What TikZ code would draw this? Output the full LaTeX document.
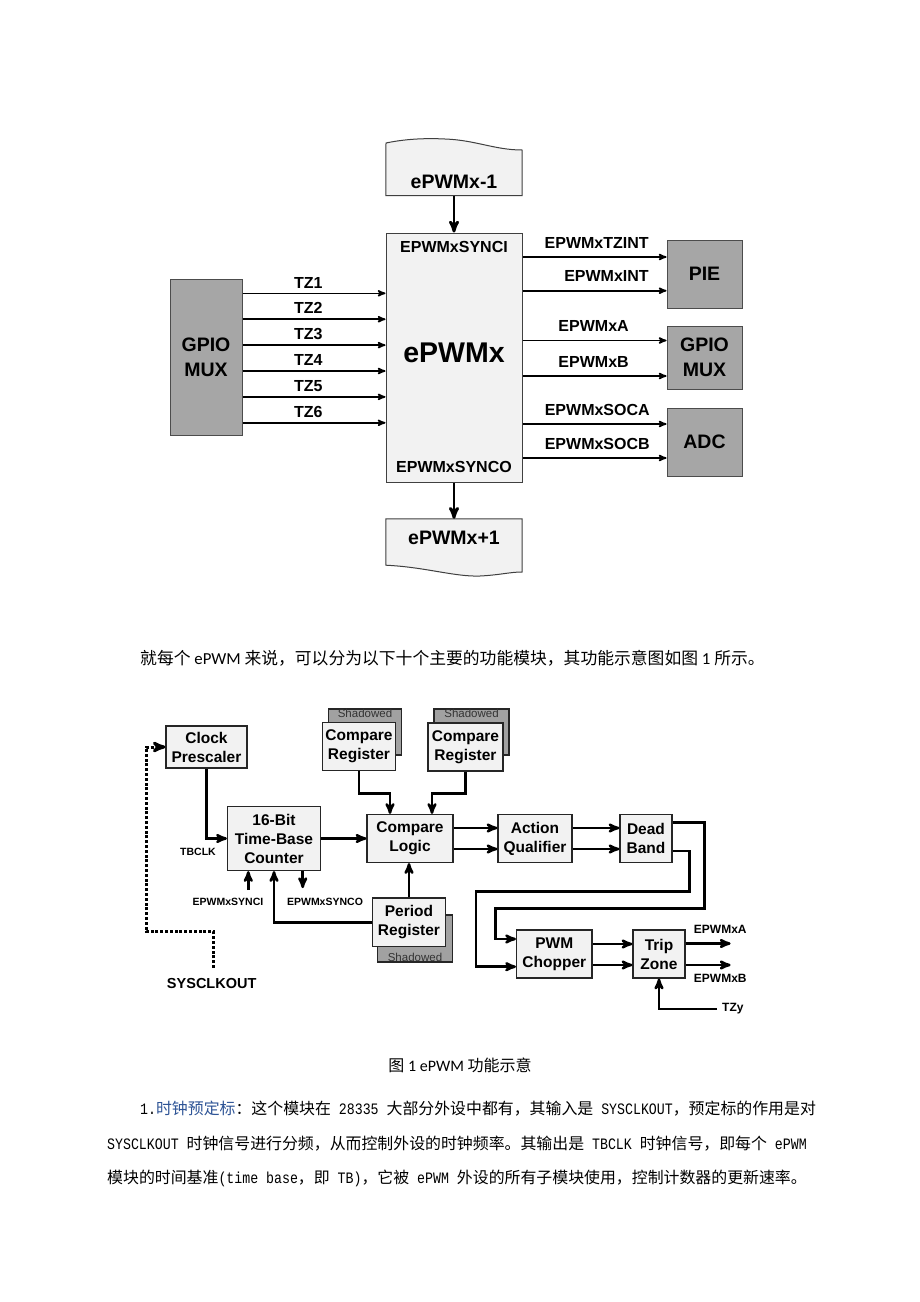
\documentclass[tikz,border=0pt]{standalone}
\usepackage{fontspec}
\setmainfont{Liberation Sans}
\newfontfamily\cjkfont{Noto Sans CJK SC}
\newfontfamily\hwfont{Liberation Mono}[FakeStretch=0.833]
\newfontfamily\calfont{Carlito}
\usetikzlibrary{arrows}
\usetikzlibrary{calc,positioning}
\definecolor{linkblue}{RGB}{46,84,150}

\begin{document}
\begin{tikzpicture}[x=1pt,y=-1pt,
  pbox/.style={draw=black!75, fill=black!5, line width=1pt, inner sep=0pt},
  gbox/.style={draw=black!70, fill=black!35, line width=1pt, inner sep=0pt, align=center, font=\bfseries\fontsize{19.5}{25}\selectfont},
  sig/.style={line width=1.6pt, ->, >=stealth'},
  bus/.style={line width=2.8pt, ->, >=stealth'},
  lbl/.style={font=\bfseries\fontsize{16}{18}\selectfont, inner sep=0pt},
  big/.style={font=\bfseries\fontsize{19.5}{20}\selectfont, inner sep=0pt},
  fbox/.style={draw=black!85, fill=black!5, line width=1.2pt, inner sep=0pt, align=center, font=\bfseries\fontsize{15.5}{19}\selectfont},
  shbox/.style={draw=black!85, fill=black!37, line width=1.2pt, inner sep=0pt},
  shtxt/.style={font=\fontsize{11.5}{12}\selectfont, text=black!80, inner sep=1pt},
  flow/.style={line width=2.5pt, ->, >=stealth'},
  dotflow/.style={line width=3pt, dash pattern=on 3pt off 1.8pt, ->, >=stealth'},
  tiny/.style={font=\bfseries\fontsize{10.5}{12}\selectfont, inner sep=0pt},
  small/.style={font=\bfseries\fontsize{12}{14}\selectfont, inner sep=0pt},
  txt/.style={anchor=base west, inner sep=0pt, font=\fontsize{15.9}{16}\selectfont}]
\fill[white] (0,0) rectangle (920,1302);
\useasboundingbox (0,0) rectangle (920,1302);

\node[pbox, minimum width=136, minimum height=249] (main) at (454,357.5) {};
\node[lbl] (synci) at (454,246.5) {EPWMxSYNCI};
\node[font=\bfseries\fontsize{28.5}{30}\selectfont, inner sep=0pt] (mainlbl) at (454,353) {ePWMx};
\node[lbl] (synco) at (454,466.5) {EPWMxSYNCO};

\node[inner sep=0pt, minimum width=136, minimum height=46] (prev) at (454,172.5) {};
\draw[pbox] (prev.south west) -- (386,143) .. controls (405,139) and (425,138) .. (445,139) .. controls (475,140) and (495,150) .. (522,150) -- (prev.south east) -- cycle;
\node[big] (prevlbl) at (454,182) {ePWMx-1};
\draw[bus] (prev.south) -- (main.north);

\node[inner sep=0pt, minimum width=136, minimum height=46] (next) at (454,542) {};
\draw[pbox] (next.north west) -- (next.south west) .. controls (425,567) and (455,577) .. (480,576) .. controls (500,575) and (510,572) .. (522,572) -- (next.north east) -- cycle;
\node[big] (nextlbl) at (454,538) {ePWMx+1};
\draw[bus] (main.south) -- (next.north);

\node[gbox, minimum width=72, minimum height=156] (gpioin) at (206,357) {GPIO\\MUX};
\foreach \i in {1,...,6} {
 \pgfmathsetmacro{\ty}{293.3+25.9*(\i-1)}
 \draw[sig] (gpioin.east |- 0,\ty) -- (main.west |- 0,\ty) node[lbl, pos=.46, above=4.5pt] (tz\i) {TZ\i};
}

\node[gbox, minimum width=75, minimum height=68] (pie) at (704.5,274) {PIE};
\node[gbox, minimum width=75, minimum height=63] (gpioout) at (704.5,357.5) {GPIO\\MUX};
\node[gbox, minimum width=75, minimum height=68] (adc) at (704.5,442) {ADC};
\foreach \tgt/\dy/\lab/\gap in {pie/-17/EPWMxTZINT/17, pie/16.7/EPWMxINT/17, gpioout/-17/EPWMxA/37, gpioout/18.5/EPWMxB/37, adc/-18/EPWMxSOCA/16, adc/16/EPWMxSOCB/16} {
 \draw[sig] ($(main.east |- \tgt.west)+(0,\dy)$) -- ($(\tgt.west)+(0,\dy)$) node[lbl, above left=8pt and \gap pt] (out\lab) {\lab};
}

\node[anchor=base west, inner sep=0pt, font=\fontsize{16.8}{17}\selectfont] (intro) at (140,664) {{\cjkfont 就每个}{\calfont\ ePWM\ }{\cjkfont 来说，可以分为以下十个主要的功能模块，其功能示意图如图}{\calfont\ 1\ }{\cjkfont 所示。}};

\node[fbox, minimum width=81, minimum height=42] (clk) at (206.5,747) {Clock\\Prescaler};
\node[fbox, minimum width=93, minimum height=64] (tbc) at (274,838.5) {16-Bit\\Time-Base\\Counter};
\node[shbox, minimum width=73.5, minimum height=46, label={[name=sh1txt, shtxt, anchor=north]north:Shadowed}] (sh1) at (365,732) {};
\node[fbox, minimum width=73, minimum height=48] (cr1) at (359,746.5) {Compare\\Register};
\node[shbox, minimum width=75, minimum height=46, label={[name=sh2txt, shtxt, anchor=north]north:Shadowed}] (sh2) at (471.5,732) {};
\node[fbox, minimum width=75, minimum height=48] (cr2) at (465.5,747) {Compare\\Register};
\node[fbox, minimum width=86, minimum height=48] (cmp) at (410,838.5) {Compare\\Logic};
\node[fbox, minimum width=74, minimum height=48] (aq) at (535,838.5) {Action\\Qualifier};
\node[fbox, minimum width=52, minimum height=48] (db) at (646,838.5) {Dead\\Band};
\node[fbox, minimum width=75.5, minimum height=48] (pwmc) at (554.3,954) {PWM\\Chopper};
\node[fbox, minimum width=52, minimum height=48] (tz) at (659,954) {Trip\\Zone};
\node[shbox, minimum width=74.5, minimum height=47, label={[name=sh3txt, shtxt, anchor=south]south:Shadowed}] (sh3) at (415,938.5) {};
\node[fbox, minimum width=72.5, minimum height=48.7] (per) at (409,922.3) {Period\\Register};

\draw[flow] (clk.south) |- (tbc.west);
\node[tiny] (tbclk) at (198,851.7) {TBCLK};
\draw[flow] (tbc.east) -- (cmp.west |- tbc.east);
\draw[flow] (cr1.south) -- ++(0,22.5) -| ([xshift=-20pt]cmp.north);
\draw[flow] (cr2.south) -- ++(0,22) -| ([xshift=22pt]cmp.north);
\foreach \dy in {10.5,-10.5} {
 \draw[flow] ([yshift=\dy pt]cmp.east) -- ([yshift=\dy pt]aq.west);
 \draw[flow] ([yshift=\dy pt]aq.east) -- ([yshift=\dy pt]db.west);
}
\draw[flow] ([yshift=16pt]db.east) -| ++(32,86) -| ([xshift=-20.7pt, yshift=15pt]pwmc.west) -- ([yshift=15pt]pwmc.west);
\draw[flow] ([yshift=-12.7pt]db.east) -| ++(17,40.5) -| ([xshift=-40pt, yshift=-12.7pt]pwmc.west) -- ([yshift=-12.7pt]pwmc.west);
\draw[flow] ([yshift=10pt]pwmc.east) -- ([yshift=10pt]tz.west);
\draw[flow] ([yshift=-11pt]pwmc.east) -- ([yshift=-11pt]tz.west);
\draw[flow] ([yshift=10.5pt]tz.east) -- ++(45,0) node[small, pos=.77, above=9pt] (outa) {EPWMxA};
\draw[flow] ([yshift=-11pt]tz.east) -- ++(45,0) node[small, pos=.77, below=7.5pt] (outb) {EPWMxB};
\node[small, anchor=west] (tzy) at (722,1009) {TZy};
\draw[flow] ([xshift=-5pt]tzy.west) -| (tz.south);

\draw[flow] (per.north) -- (per.north |- cmp.south);
\draw[flow] (per.west) -| (tbc.south);
\node[tiny] (synci2) at (228,901.7) {EPWMxSYNCI};
\node[tiny] (synco2) at (325,901.7) {EPWMxSYNCO};
\coordinate (tbsi) at ([xshift=-25.7pt]tbc.south);
\coordinate (tbso) at ([xshift=28.7pt]tbc.south);
\draw[flow] ([yshift=-19pt]tbsi) -- (tbsi);
\draw[flow] (tbso) -- ([yshift=-17pt]tbso);

\node[font=\bfseries\fontsize{14.5}{16}\selectfont, inner sep=0pt] (sysclk) at (211.7,983.3) {SYSCLKOUT};
\draw[dotflow] ([xshift=1.6pt, yshift=10pt]sysclk.north) -- ++(0,-36.3) -| ([xshift=-19.3pt]clk.west) -- (clk.west);

\node[anchor=base, inner sep=0pt, font=\fontsize{16}{16}\selectfont] (cap) at (460,1071) {{\cjkfont 图}{\calfont\ 1 ePWM\ }{\cjkfont 功能示意}};
\node[txt] (para1) at (140,1114) {{\hwfont 1.}{\cjkfont\color{linkblue}时钟预定标}{\cjkfont ：这个模块在}{\hwfont\ 28335\ }{\cjkfont 大部分外设中都有，其输入是}{\hwfont\ SYSCLKOUT}{\cjkfont ，预定标的作用是对}};
\node[txt] (para2) at (107,1149) {{\hwfont SYSCLKOUT\ }{\cjkfont 时钟信号进行分频，从而控制外设的时钟频率。其输出是}{\hwfont\ TBCLK\ }{\cjkfont 时钟信号，即每个}{\hwfont\ ePWM}};
\node[txt] (para3) at (107,1183) {{\cjkfont 模块的时间基准}{\hwfont (time base}{\cjkfont ，即}{\hwfont\ TB)}{\cjkfont ，它被}{\hwfont\ ePWM\ }{\cjkfont 外设的所有子模块使用，控制计数器的更新速率。}};
\end{tikzpicture}
\end{document}
